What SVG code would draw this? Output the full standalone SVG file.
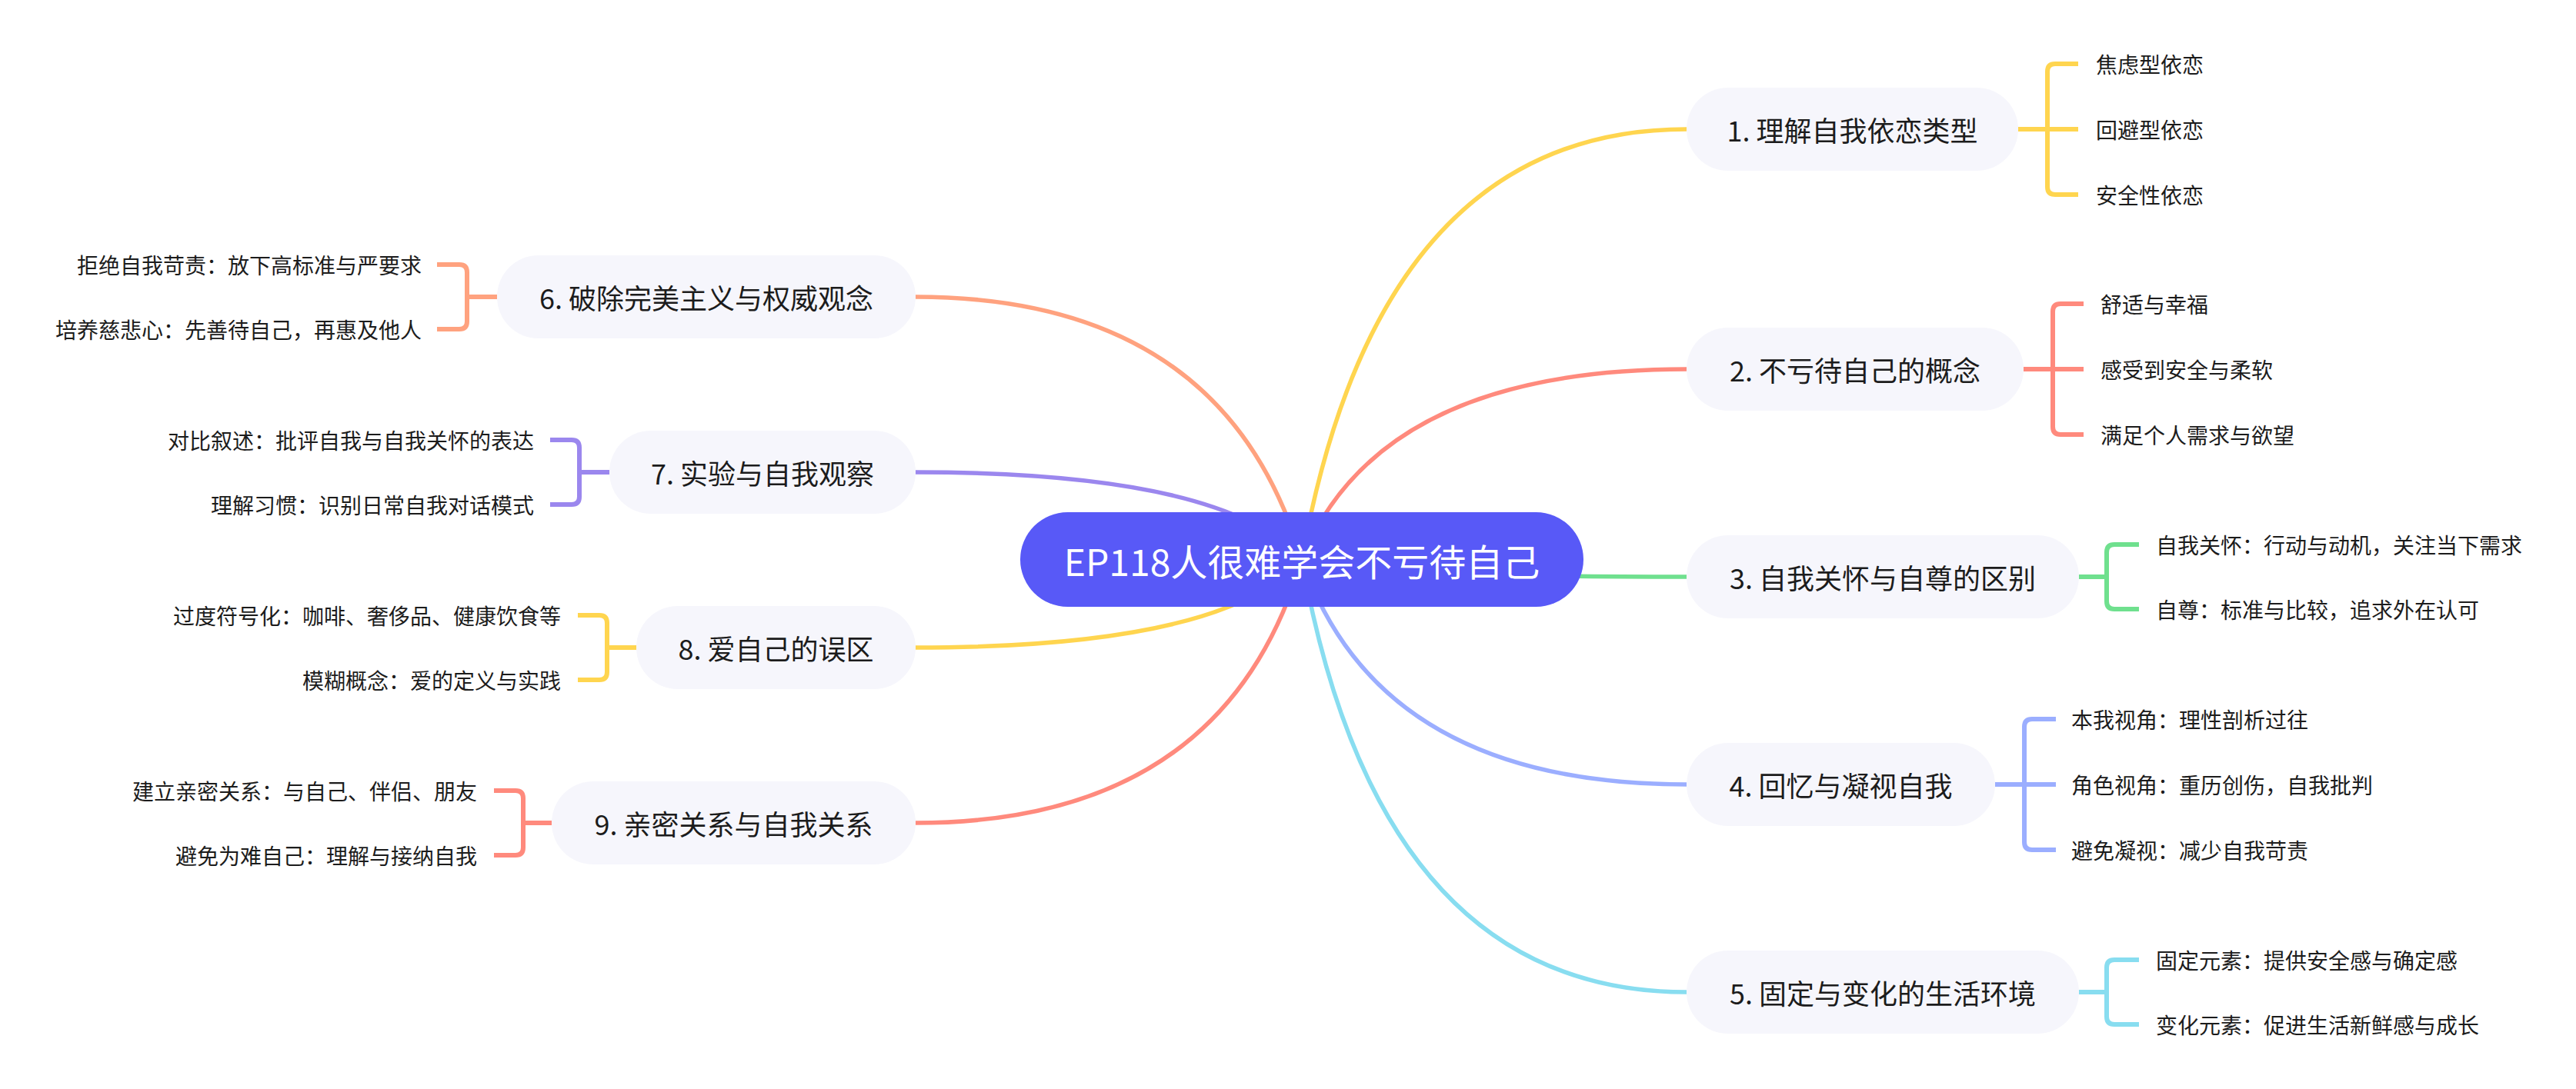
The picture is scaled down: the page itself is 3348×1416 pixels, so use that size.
<svg xmlns="http://www.w3.org/2000/svg" width="3348" height="1416" viewBox="0 0 3348 1416">
<style>
text{font-family:"Noto Sans CJK SC","Noto Sans",sans-serif;fill:#1c1c1c;dominant-baseline:central}
.n{font-size:36px;text-anchor:middle}
.c{font-size:28px}
.l{text-anchor:end}
.box{fill:#F6F6FC}
.ln{fill:none;stroke-width:5.5}
.br{fill:none;stroke-width:6}
.y{stroke:#FFD54F}.s{stroke:#FF8A7D}.g{stroke:#6FE08E}.b{stroke:#9BAEFF}.cy{stroke:#88DDF0}.o{stroke:#FFA27F}.p{stroke:#9B87EE}
</style>
<rect width="3348" height="1416" fill="#ffffff"/>
<g id="connectors">
<path class="ln y" d="M1692 727.5 Q1792 168 2192 168"/>
<path class="ln s" d="M1692 727.5 Q1792 480 2192 480"/>
<path class="ln g" d="M1692 727.5 Q1792 750 2192 750"/>
<path class="ln b" d="M1692 727.5 Q1792 1020 2192 1020"/>
<path class="ln cy" d="M1692 727.5 Q1792 1290 2192 1290"/>
<path class="ln o" d="M1692 727.5 Q1591.6 386 1190 386"/>
<path class="ln p" d="M1692 727.5 Q1591.6 614 1190 614"/>
<path class="ln y" d="M1692 727.5 Q1591.6 842 1190 842"/>
<path class="ln s" d="M1692 727.5 Q1591.6 1070 1190 1070"/>
<path class="br y" d="M2623 168H2701M2701 83H2671Q2661 83 2661 93V243Q2661 253 2671 253H2701"/>
<path class="br s" d="M2630 480H2708M2708 395H2678Q2668 395 2668 405V555Q2668 565 2678 565H2708"/>
<path class="br g" d="M2702 750H2738M2780 708H2748Q2738 708 2738 718V782Q2738 792 2748 792H2780"/>
<path class="br b" d="M2593 1020H2672M2672 935H2641Q2631 935 2631 945V1095Q2631 1105 2641 1105H2672"/>
<path class="br cy" d="M2702 1290H2738M2780 1248H2748Q2738 1248 2738 1258V1322Q2738 1332 2748 1332H2780"/>
<path class="br o" d="M646 386H607M568 344H597Q607 344 607 354V418Q607 428 597 428H568"/>
<path class="br p" d="M792 614H753M715 572H743Q753 572 753 582V646Q753 656 743 656H715"/>
<path class="br y" d="M827 842H789M751 800H779Q789 800 789 810V874Q789 884 779 884H751"/>
<path class="br s" d="M717 1070H680M642 1028H670Q680 1028 680 1038V1102Q680 1112 670 1112H642"/>
</g>
<g id="root">
<rect x="1326" y="666" width="732" height="123" rx="61.5" fill="#5859F7"/>
<text x="1692" y="727.5" style="font-size:48px;fill:#ffffff;text-anchor:middle">EP118人很难学会不亏待自己</text>
</g>
<g id="n1">
<rect class="box" x="2192" y="114" width="431" height="108" rx="54"/>
<text class="n" x="2407.5" y="168">1. 理解自我依恋类型</text>
<text class="c" x="2724" y="83">焦虑型依恋</text>
<text class="c" x="2724" y="168">回避型依恋</text>
<text class="c" x="2724" y="253">安全性依恋</text>
</g>
<g id="n2">
<rect class="box" x="2192" y="426" width="438" height="108" rx="54"/>
<text class="n" x="2411" y="480">2. 不亏待自己的概念</text>
<text class="c" x="2730" y="395">舒适与幸福</text>
<text class="c" x="2730" y="480">感受到安全与柔软</text>
<text class="c" x="2730" y="565">满足个人需求与欲望</text>
</g>
<g id="n3">
<rect class="box" x="2192" y="696" width="510" height="108" rx="54"/>
<text class="n" x="2447" y="750">3. 自我关怀与自尊的区别</text>
<text class="c" x="2802" y="708">自我关怀：行动与动机，关注当下需求</text>
<text class="c" x="2802" y="792">自尊：标准与比较，追求外在认可</text>
</g>
<g id="n4">
<rect class="box" x="2192" y="966" width="401" height="108" rx="54"/>
<text class="n" x="2392.5" y="1020">4. 回忆与凝视自我</text>
<text class="c" x="2692" y="935">本我视角：理性剖析过往</text>
<text class="c" x="2692" y="1020">角色视角：重历创伤，自我批判</text>
<text class="c" x="2692" y="1105">避免凝视：减少自我苛责</text>
</g>
<g id="n5">
<rect class="box" x="2192" y="1236" width="510" height="108" rx="54"/>
<text class="n" x="2447" y="1290">5. 固定与变化的生活环境</text>
<text class="c" x="2802" y="1248">固定元素：提供安全感与确定感</text>
<text class="c" x="2802" y="1332">变化元素：促进生活新鲜感与成长</text>
</g>
<g id="n6">
<rect class="box" x="646" y="332" width="544" height="108" rx="54"/>
<text class="n" x="918" y="386">6. 破除完美主义与权威观念</text>
<text class="c l" x="548" y="344">拒绝自我苛责：放下高标准与严要求</text>
<text class="c l" x="548" y="428">培养慈悲心：先善待自己，再惠及他人</text>
</g>
<g id="n7">
<rect class="box" x="792" y="560" width="398" height="108" rx="54"/>
<text class="n" x="991" y="614">7. 实验与自我观察</text>
<text class="c l" x="694" y="572">对比叙述：批评自我与自我关怀的表达</text>
<text class="c l" x="694" y="656">理解习惯：识别日常自我对话模式</text>
</g>
<g id="n8">
<rect class="box" x="827" y="788" width="363" height="108" rx="54"/>
<text class="n" x="1008.5" y="842">8. 爱自己的误区</text>
<text class="c l" x="729" y="800">过度符号化：咖啡、奢侈品、健康饮食等</text>
<text class="c l" x="729" y="884">模糊概念：爱的定义与实践</text>
</g>
<g id="n9">
<rect class="box" x="717" y="1016" width="473" height="108" rx="54"/>
<text class="n" x="953.5" y="1070">9. 亲密关系与自我关系</text>
<text class="c l" x="620" y="1028">建立亲密关系：与自己、伴侣、朋友</text>
<text class="c l" x="620" y="1112">避免为难自己：理解与接纳自我</text>
</g>
</svg>
